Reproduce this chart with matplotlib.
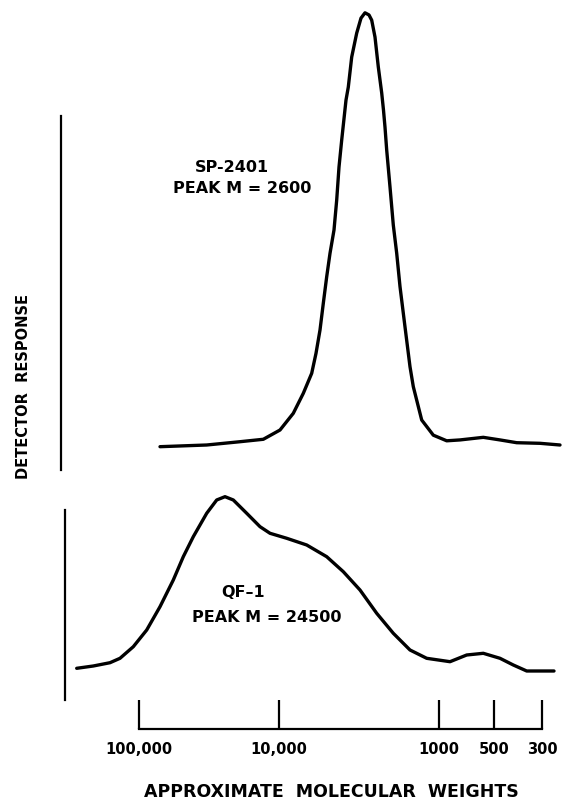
import matplotlib
matplotlib.use("Agg")
import matplotlib.pyplot as plt

plt.rcParams['font.family'] = ['DejaVu Sans']
plt.rcParams['font.weight'] = 'bold'
plt.rcParams['axes.labelweight'] = 'bold'

# elution position (arbitrary units) and detector response (% of peak)
sp_x = [19.8, 29.14, 35.8, 40.46, 43.8, 46.46, 48.46, 50.14, 51.0, 51.8, 52.46,
        53.14, 53.8, 54.6, 55.14, 55.6, 56.14, 57.0, 57.46, 58.14, 59.14, 60.0,
        60.8, 61.6, 62.14, 62.8, 63.46, 64.14, 64.5, 64.8, 65.14, 65.8, 66.46,
        67.14, 67.8, 68.8, 69.8, 70.46, 72.14, 74.46, 77.14, 79.8, 84.46, 87.8,
        91.14, 95.8, 99.8]
sp_y = [-0.16, 0.23, 0.99, 1.55, 3.69, 7.55, 12.16, 16.78, 21.39, 26.77, 32.93,
        39.07, 44.47, 49.85, 56.77, 64.39, 70.62, 79.85, 82.85, 89.78, 95.31, 98.77,
        100.0, 99.5, 98.3, 94.4, 87.5, 81.5, 77.5, 73.6, 68.3, 59.8, 51.0,
        44.5, 36.8, 27.5, 18.3, 13.7, 6.0, 2.5, 1.2, 1.4, 2.0, 1.4,
        0.76, 0.62, 0.23]

qf_x = [3.14, 6.46, 9.8, 11.8, 14.46, 17.14, 19.8, 22.46, 24.46, 26.46, 29.14,
        31.14, 32.8, 34.46, 37.14, 39.8, 41.8, 45.14, 49.14, 53.14, 56.46, 59.8,
        63.14, 66.46, 69.8, 73.14, 77.8, 81.14, 84.46, 87.8, 90.46, 93.14, 95.8, 98.6]
qf_y = [-0.18, 1.17, 3.09, 5.66, 12.43, 22.18, 35.78, 51.37, 64.97, 76.65, 90.31,
        98.07, 100.0, 98.07, 90.31, 82.49, 78.63, 75.72, 71.8, 64.97, 56.22, 45.53,
        31.93, 20.26, 10.51, 5.66, 3.68, 7.59, 8.58, 5.66, 1.75, -1.75, -1.75, -1.75]

# molecular weight calibration marks
mw_pos = [15.66, 43.6, 75.66, 86.66, 96.26]
mw_labels = ['100,000', '10,000', '1000', '500', '300']

fig = plt.figure(figsize=(5.62, 8.02), dpi=100)

ax1 = fig.add_axes([0.10854, 0.41397, 0.88968, 0.57980])
ax2 = fig.add_axes([0.10854, 0.12718, 0.88968, 0.26185])
ax3 = fig.add_axes([0.10854, 0.0906, 0.88968, 0.0365])

for ax in (ax1, ax2, ax3):
    ax.set_xlim(0, 100)
    ax.patch.set_visible(False)
    for s in ('top', 'right'):
        ax.spines[s].set_visible(False)

lw = 2.4
ax1.plot(sp_x, sp_y, color='black', lw=lw, solid_capstyle='round',
         solid_joinstyle='round', clip_on=False)
ax1.set_ylim(-5.54, 101.8)
ax1.spines['bottom'].set_visible(False)
ax1.spines['left'].set_bounds(-5.54, 76.2)
ax1.spines['left'].set_linewidth(1.6)
ax1.set_xticks([])
ax1.set_yticks([])
ax1.text(34.2, 64.2, 'SP-2401', ha='center', va='center', fontsize=11.5)
ax1.text(36.2, 59.5, 'PEAK M = 2600', ha='center', va='center', fontsize=11.5)

ax2.plot(qf_x, qf_y, color='black', lw=lw, solid_capstyle='round',
         solid_joinstyle='round', clip_on=False)
ax2.set_ylim(-18.68, 103.9)
ax2.spines['bottom'].set_visible(False)
ax2.spines['left'].set_bounds(-18.68, 92.2)
ax2.spines['left'].set_linewidth(1.6)
ax2.spines['left'].set_position(('outward', -2.9))
ax2.set_xticks([])
ax2.set_yticks([])
ax2.text(36.4, 43.8, 'QF\u20131', ha='center', va='center', fontsize=11.5)
ax2.text(41.2, 29.2, 'PEAK M = 24500', ha='center', va='center', fontsize=11.5)

ax3.spines['left'].set_visible(False)
ax3.spines['bottom'].set_bounds(mw_pos[0], mw_pos[-1])
ax3.spines['bottom'].set_linewidth(1.6)
ax3.set_yticks([])
ax3.set_xticks(mw_pos)
ax3.set_xticklabels(mw_labels, fontsize=10.5)
ax3.tick_params(axis='x', direction='in', length=21.1, width=1.6, pad=9)
ax3.set_xlabel('APPROXIMATE  MOLECULAR  WEIGHTS', fontsize=12.5)
ax3.xaxis.set_label_coords(0.54, -1.85)

fig.text(0.041, 0.5175, 'DETECTOR  RESPONSE', rotation=90, ha='center',
         va='center', fontsize=10.5)

fig.savefig('out.png', dpi=100)
